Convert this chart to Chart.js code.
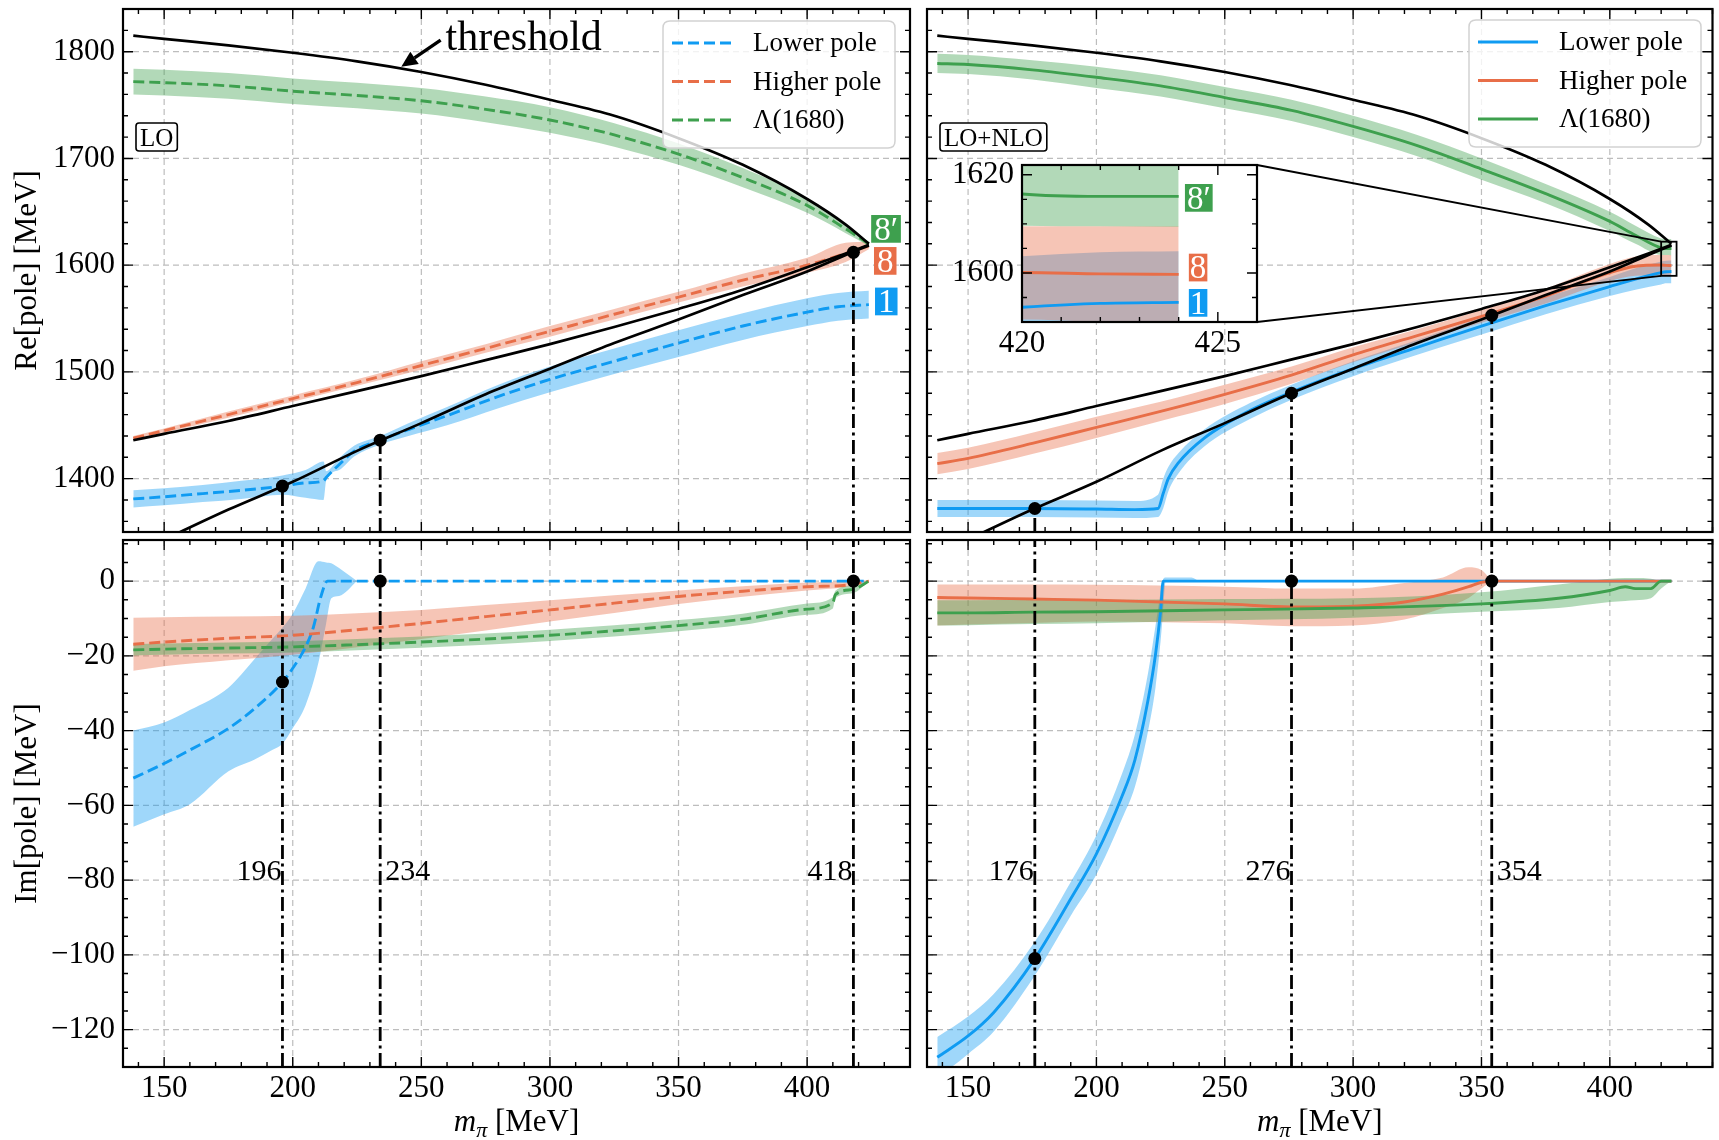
<!DOCTYPE html>
<html>
<head>
<meta charset="utf-8">
<title>Pole trajectories vs pion mass</title>
<script src="https://cdn.jsdelivr.net/npm/chart.js@4.4.1/dist/chart.umd.min.js"></script>
<style>
  body { margin: 0; background: #fff; }
  #fig { position: relative; width: 1719px; height: 1140px; }
  #fig canvas { position: absolute; left: 0; top: 0; }
</style>
</head>
<body>
<div id="fig">
  <canvas id="tl" width="1719" height="1140"></canvas>
  <canvas id="bl" width="1719" height="1140"></canvas>
  <canvas id="tr" width="1719" height="1140"></canvas>
  <canvas id="br" width="1719" height="1140"></canvas>
  <canvas id="inset" width="1719" height="1140"></canvas>
</div>
<script>
// ====== Axis ticks ======
const xTicks = [150, 200, 250, 300, 350, 400];
const reTicks = [1400, 1500, 1600, 1700, 1800];
const imTicks = [0, -20, -40, -60, -80, -100, -120];
const insetXTicks = [420, 425];
const insetReTicks = [1600, 1620];
const legendNames = ['Lower pole', 'Higher pole', '\u039b(1680)'];

const X_RANGE = [134, 440];
const RE_RANGE = [1350, 1840];
const IM_RANGE = [-130, 11];
const INSET_X = [420, 426];
const INSET_Y = [1590, 1622];

// ====== Thresholds (same in both columns) ======
const thrX     = [138, 150, 175, 200, 225, 250, 275, 300, 325, 350, 375, 400, 415, 424];
const thrKXi   = [1815, 1812, 1806, 1799, 1791, 1781, 1769, 1755, 1740, 1719, 1694, 1662, 1638, 1620];
const thrKN    = [1436, 1442, 1454, 1468, 1482, 1496, 1511, 1526, 1542, 1559, 1577, 1598, 1611, 1619];
const thrPiSig = [1330, 1343, 1371, 1397, 1426, 1452, 1479, 1503, 1527, 1549, 1572, 1594, 1609.5, 1618.5];

// ====== LO, real part ======
const loLowReX  = [138, 150, 165, 180, 196, 205, 212, 213, 218, 224, 234, 245, 260, 280, 300, 325, 350, 375, 400, 412, 424];
const loLowRe   = [1381, 1383, 1386, 1389, 1393, 1396, 1398, 1401, 1413, 1426, 1436, 1446, 1459, 1477, 1493, 1510, 1527, 1543, 1556, 1561, 1563];
const loLowReUp = [1389, 1391, 1394, 1398, 1403, 1408, 1416, 1407, 1419, 1431, 1440, 1452, 1467, 1488, 1505, 1522, 1539, 1555, 1569, 1574, 1576];
const loLowReLo = [1373, 1375, 1378, 1381, 1385, 1382, 1380, 1398, 1408, 1421, 1432, 1440, 1450, 1466, 1481, 1498, 1514, 1530, 1543, 1548, 1550];

const loReX      = [138, 150, 175, 200, 225, 250, 275, 300, 325, 350, 375, 400, 415, 424];
const loHighRe   = [1438, 1445, 1460, 1475, 1490, 1506, 1522, 1538, 1554, 1570, 1586, 1600, 1611, 1618];
const loHighReUp = [1440, 1447, 1463, 1478, 1493, 1510, 1526, 1543, 1559, 1575, 1592, 1607, 1621, 1622];
const loHighReLo = [1436, 1443, 1457, 1472, 1487, 1502, 1518, 1533, 1549, 1565, 1580, 1593, 1603, 1615];
const loLamRe    = [1772, 1771, 1768, 1763, 1759, 1754, 1746, 1736, 1722, 1704, 1682, 1656, 1634, 1620];
const loLamReUp  = [1784, 1783, 1780, 1775, 1771, 1766, 1758, 1748, 1733, 1714, 1691, 1663, 1638, 1622];
const loLamReLo  = [1760, 1759, 1756, 1751, 1747, 1742, 1734, 1724, 1711, 1694, 1673, 1649, 1630, 1618];

// ====== LO, imaginary part ======
const loLowImX     = [138, 150, 160, 175, 185, 196, 200, 205, 208, 211, 213.5, 230, 260, 300, 350, 400, 424];
const loLowIm      = [-52.7, -48.8, -45.2, -39.4, -34.2, -27, -23.3, -17.6, -12.4, -4, 0, 0, 0, 0, 0, 0, 0];
const loLowImBandX = [138, 150, 160, 175, 185, 192, 196, 200, 205, 210, 213, 215, 218, 225];
const loLowImUp    = [-40, -37.8, -34.5, -28.5, -21, -15.5, -12.4, -8.7, -2, 5.3, 5, 4.8, 3.5, 0];
const loLowImLo    = [-65.7, -62.4, -59.7, -50.9, -47.8, -45.2, -43.5, -39.4, -33.2, -21.8, -11.3, -4.6, -4, 0];

const loHighIm   = [-16.9, -16.3, -15.3, -14.5, -13, -11.3, -9.5, -7.7, -5.9, -4.1, -2.7, -1.5, -1.1, 0];
const loHighImUp = [-9.8, -9.7, -9.5, -9.3, -8.6, -7.7, -6.4, -5.1, -3.8, -2.5, -1.4, -0.4, -0.1, 0];
const loHighImLo = [-24, -22.8, -21.2, -19.7, -17.7, -15.5, -13.2, -10.8, -8.5, -6.1, -4.2, -2.5, -1.6, 0];

const loLamImX  = [138, 150, 175, 200, 225, 250, 275, 300, 325, 350, 375, 400, 410, 411, 418, 424];
const loLamIm   = [-18.4, -18.2, -17.9, -17.6, -17, -16.3, -15.5, -14.5, -13.3, -11.9, -10.2, -7.5, -5.8, -3.6, -2.2, 0];
const loLamImUp = [-16.9, -16.7, -16.4, -16.1, -15.5, -14.8, -14, -13, -11.8, -10.4, -8.7, -6, -4.3, -2.6, -1.2, 0];
const loLamImLo = [-19.9, -19.7, -19.4, -19.1, -18.5, -17.8, -17, -16, -14.8, -13.4, -11.7, -9, -7.3, -4.6, -3.2, 0];

// ====== LO+NLO, real part ======
const nloLowReX  = [138, 150, 175, 200, 215, 224, 226, 228, 232, 242, 260, 276, 300, 325, 350, 375, 400, 410, 420, 422, 424];
const nloLowRe   = [1372, 1372, 1372, 1371.5, 1371, 1372, 1386, 1400, 1415, 1438, 1464, 1481, 1503, 1523, 1543, 1562, 1580, 1587, 1593, 1593.8, 1594];
const nloLowReUp = [1380, 1380, 1380, 1379.5, 1379, 1385, 1400, 1411, 1424, 1446, 1471, 1488, 1510, 1530, 1551, 1570, 1589, 1597, 1603.4, 1604.2, 1604.4];
const nloLowReLo = [1364, 1364, 1364, 1363.5, 1363, 1364, 1372, 1388, 1405, 1430, 1456, 1474, 1496, 1516, 1535, 1554, 1571, 1577, 1582, 1583, 1583];

const nloReX      = [138, 150, 175, 200, 225, 250, 276, 300, 325, 350, 375, 400, 410, 420, 422, 424];
const nloHighRe   = [1414, 1419, 1433, 1448, 1463, 1479, 1497, 1516, 1534, 1552, 1571, 1593, 1599, 1600.1, 1599.8, 1599.7];
const nloHighReUp = [1424, 1429, 1443, 1458, 1472, 1488, 1505, 1523, 1540, 1558, 1578, 1601, 1608, 1609.5, 1609.5, 1609.5];
const nloHighReLo = [1404, 1409, 1423, 1438, 1454, 1470, 1489, 1509, 1528, 1546, 1564, 1585, 1590, 1590.5, 1590, 1589.5];
const nloLamRe    = [1789, 1788, 1783, 1776, 1768, 1757, 1745, 1730, 1712, 1690, 1667, 1641, 1628, 1616.1, 1615.6, 1615.6];
const nloLamReUp  = [1798, 1797, 1792, 1786, 1778, 1767, 1755, 1740, 1722, 1700, 1676, 1650, 1637, 1625, 1624.5, 1624.5];
const nloLamReLo  = [1780, 1779, 1774, 1766, 1758, 1747, 1735, 1720, 1702, 1680, 1658, 1632, 1620, 1609.6, 1609.5, 1609.4];

// ====== LO+NLO, imaginary part ======
const nloLowImX     = [138, 150, 160, 176, 190, 200, 210, 215, 220, 223, 225, 226, 230, 276, 354, 424];
const nloLowIm      = [-127.4, -121.7, -115.4, -101, -85, -73, -57.5, -47.8, -32.2, -19.7, -8, 0, 0, 0, 0, 0];
const nloLowImBandX = [138, 150, 160, 176, 190, 200, 210, 215, 220, 223, 225, 226, 227, 230, 237, 240];
const nloLowImUp    = [-122, -116.5, -110.5, -96.5, -80.5, -68, -51.5, -41, -25, -12, -3, 0.5, 1, 1, 1, 0];
const nloLowImLo    = [-133, -126.5, -120.5, -105.5, -89.5, -78.5, -63.5, -55, -40.5, -28.5, -16, -8, 0, 0, 0, 0];

const nloHighImX  = [138, 150, 175, 200, 225, 250, 276, 300, 320, 335, 345, 350, 355, 380, 400, 424];
const nloHighIm   = [-4.4, -4.5, -4.8, -5.1, -5.6, -6.1, -6.9, -6.7, -5.6, -3.5, -1.5, -0.3, 0, 0, 0, 0];
const nloHighImUp = [-0.9, -0.9, -0.9, -1, -1.2, -1.5, -2, -2, -0.5, 1, 3.7, 3, 0, 0, 0, 0];
const nloHighImLo = [-11.9, -11.6, -11.2, -10.8, -11, -11.3, -12.1, -11.9, -10.3, -7.2, -4.5, -2, 0, 0, 0, 0];

const nloLamImX  = [138, 150, 175, 200, 250, 300, 350, 380, 400, 406, 410, 416, 420, 424];
const nloLamIm   = [-8.5, -8.5, -8.3, -8.2, -7.7, -7.2, -6.1, -4.6, -2.5, -1.5, -2, -2, 0, 0];
const nloLamImUp = [-5.1, -5.1, -5, -5, -4.8, -4.6, -3, -0.9, 0.6, 0.8, 0.8, 0.6, 0, 0];
const nloLamImLo = [-11.9, -11.8, -11.5, -11.3, -10.5, -9.8, -8.2, -7.2, -5.6, -5.3, -5.1, -4.6, -2, 0];

// ====== Marked pion masses ======
const loMarkX  = [196, 234, 418];
const loMarkRe = [1393, 1436, 1612];
const loMarkIm = [-27, 0, 0];
const nloMarkX  = [176, 276, 354];
const nloMarkRe = [1372, 1480, 1553];
const nloMarkIm = [-101, 0, 0];
const MARK_LABEL_Y = -80;

// ====== Styles ======
const FF = "'Liberation Serif', 'Times New Roman', serif";
Chart.defaults.font.family = FF;
Chart.defaults.color = '#000';

const BLUE = '15,155,242', ORANGE = '232,110,72', GREEN = '62,160,78';
const solid = c => 'rgb(' + c + ')';
const soft = c => 'rgba(' + c + ',0.4)';
const DASH = [11, 5];
const DASHDOT = [14, 4.5, 3, 4.5];
const INSET_BOX = {left: 1022, top: 165, right: 1257, bottom: 322};

function pts(xs, ys) {
  return xs.map((x, i) => ({x: x, y: ys[i]}));
}

function curve(xs, ys, color, dash, order, width) {
  return {
    data: pts(xs, ys), borderColor: color, borderWidth: width || 2.9, borderDash: dash || [],
    pointRadius: 0, fill: false, cubicInterpolationMode: 'monotone', order: order
  };
}

function band(xs, up, lo, c, order) {
  const common = {borderWidth: 0, borderColor: 'rgba(0,0,0,0)', pointRadius: 0,
                  cubicInterpolationMode: 'monotone', order: order};
  return [
    Object.assign({data: pts(xs, up), fill: '+1', backgroundColor: soft(c)}, common),
    Object.assign({data: pts(xs, lo), fill: false}, common)
  ];
}

function thresholds() {
  return [
    curve(thrX, thrKXi, '#000', null, 5, 2.7),
    curve(thrX, thrKN, '#000', null, 5, 2.7),
    curve(thrX, thrPiSig, '#000', null, 5, 2.7)
  ];
}

// dash-dot verticals from y0 up to the dot (or to yTop) plus the black dots
function markers(xs, ys, y0, yTop) {
  const sets = xs.map((x, i) => ({
    data: [{x: x, y: y0}, {x: x, y: yTop === null ? ys[i] : yTop}],
    borderColor: '#000', borderWidth: 2.8, borderDash: DASHDOT, pointRadius: 0, fill: false, order: 3
  }));
  sets.push({data: pts(xs, ys), showLine: false, pointRadius: 6.5, pointBackgroundColor: '#000',
             pointBorderWidth: 0, order: 1});
  return sets;
}

// ====== Plugins ======
const framePlugin = {
  id: 'frame',
  beforeDatasetsDraw(chart, args, o) {
    if (!o.grid) return;
    const {ctx, chartArea: a, scales: {x, y}} = chart;
    ctx.save();
    ctx.strokeStyle = '#bdbdbd';
    ctx.lineWidth = 1.2;
    ctx.setLineDash([6, 4]);
    ctx.beginPath();
    x.ticks.forEach(t => { const p = x.getPixelForValue(t.value); ctx.moveTo(p, a.top); ctx.lineTo(p, a.bottom); });
    y.ticks.forEach(t => { const p = y.getPixelForValue(t.value); ctx.moveTo(a.left, p); ctx.lineTo(a.right, p); });
    ctx.stroke();
    ctx.restore();
  },
  afterDatasetsDraw(chart, args, o) {
    const {ctx, chartArea: a, scales: {x, y}} = chart;
    ctx.save();
    ctx.strokeStyle = '#000';
    ctx.lineWidth = 1.4;
    ctx.beginPath();
    const xTick = (v, len) => {
      const p = x.getPixelForValue(v);
      ctx.moveTo(p, a.bottom); ctx.lineTo(p, a.bottom - len);
      ctx.moveTo(p, a.top); ctx.lineTo(p, a.top + len);
    };
    const yTick = (v, len) => {
      const p = y.getPixelForValue(v);
      ctx.moveTo(a.left, p); ctx.lineTo(a.left + len, p);
      ctx.moveTo(a.right, p); ctx.lineTo(a.right - len, p);
    };
    for (let k = Math.ceil(x.min / o.xMinor); k * o.xMinor <= x.max; k++) xTick(k * o.xMinor, 5);
    for (let k = Math.ceil(y.min / o.yMinor); k * o.yMinor <= y.max; k++) yTick(k * o.yMinor, 5);
    x.ticks.forEach(t => xTick(t.value, 10));
    y.ticks.forEach(t => yTick(t.value, 10));
    ctx.stroke();
    ctx.lineWidth = 2.2;
    ctx.strokeRect(a.left, a.top, a.right - a.left, a.bottom - a.top);
    ctx.restore();
  }
};

function roundRectPath(ctx, x, y, w, h, r) {
  ctx.beginPath();
  ctx.moveTo(x + r, y);
  ctx.lineTo(x + w - r, y); ctx.quadraticCurveTo(x + w, y, x + w, y + r);
  ctx.lineTo(x + w, y + h - r); ctx.quadraticCurveTo(x + w, y + h, x + w - r, y + h);
  ctx.lineTo(x + r, y + h); ctx.quadraticCurveTo(x, y + h, x, y + h - r);
  ctx.lineTo(x, y + r); ctx.quadraticCurveTo(x, y, x + r, y);
  ctx.closePath();
}

function drawLegend(ctx, left, top, dash) {
  const colors = [BLUE, ORANGE, GREEN];
  ctx.save();
  roundRectPath(ctx, left, top, 232, 127, 7);
  ctx.fillStyle = 'rgba(255,255,255,0.8)';
  ctx.fill();
  ctx.strokeStyle = '#d2d2d2';
  ctx.lineWidth = 1.5;
  ctx.stroke();
  ctx.font = '27px ' + FF;
  ctx.textBaseline = 'middle';
  ctx.textAlign = 'left';
  legendNames.forEach((name, i) => {
    const yy = top + 22 + i * 38.5;
    ctx.beginPath();
    ctx.setLineDash(dash);
    ctx.strokeStyle = solid(colors[i]);
    ctx.lineWidth = 2.9;
    ctx.moveTo(left + 9, yy);
    ctx.lineTo(left + 69, yy);
    ctx.stroke();
    ctx.setLineDash([]);
    ctx.fillStyle = '#000';
    ctx.fillText(name, left + 90, yy + 1);
  });
  ctx.restore();
}

function boxLabel(ctx, text, left, top) {
  ctx.save();
  ctx.font = '25px ' + FF;
  const w = ctx.measureText(text).width + 8, h = 28;
  roundRectPath(ctx, left, top, w, h, 3);
  ctx.fillStyle = '#fff';
  ctx.fill();
  ctx.strokeStyle = '#000';
  ctx.lineWidth = 1.6;
  ctx.stroke();
  ctx.fillStyle = '#000';
  ctx.textAlign = 'center';
  ctx.textBaseline = 'alphabetic';
  ctx.fillText(text, left + w / 2, top + h / 2 + 8.5);
  ctx.restore();
}

function tag(ctx, text, left, cy, c, size, pad) {
  ctx.save();
  ctx.font = size + 'px ' + FF;
  const w = ctx.measureText(text).width + 2 * pad, h = size * 0.84;
  ctx.fillStyle = solid(c);
  ctx.fillRect(left, cy - h / 2, w, h);
  ctx.fillStyle = '#fff';
  ctx.textAlign = 'left';
  ctx.textBaseline = 'alphabetic';
  ctx.fillText(text, left + pad, cy + size * 0.33);
  ctx.restore();
}

function drawArrow(ctx, x0, y0, x1, y1) {
  const ang = Math.atan2(y1 - y0, x1 - x0), L = 16, half = 7.5;
  const bx = x1 - L * Math.cos(ang), by = y1 - L * Math.sin(ang);
  ctx.save();
  ctx.strokeStyle = '#000';
  ctx.fillStyle = '#000';
  ctx.lineWidth = 3.4;
  ctx.beginPath(); ctx.moveTo(x0, y0); ctx.lineTo(bx, by); ctx.stroke();
  ctx.beginPath();
  ctx.moveTo(x1, y1);
  ctx.lineTo(bx + half * Math.sin(ang), by - half * Math.cos(ang));
  ctx.lineTo(bx - half * Math.sin(ang), by + half * Math.cos(ang));
  ctx.closePath();
  ctx.fill();
  ctx.restore();
}

function xTitle(ctx, cx, base) {
  const big = 'italic 31px ' + FF, sub = 'italic 22px ' + FF, reg = '31px ' + FF;
  ctx.save();
  ctx.font = big; const w1 = ctx.measureText('m').width;
  ctx.font = sub; const w2 = ctx.measureText('\u03c0').width;
  ctx.font = reg; const w3 = ctx.measureText(' [MeV]').width;
  let xx = cx - (w1 + w2 + w3) / 2;
  ctx.fillStyle = '#000';
  ctx.textAlign = 'left';
  ctx.textBaseline = 'alphabetic';
  ctx.font = big; ctx.fillText('m', xx, base); xx += w1;
  ctx.font = sub; ctx.fillText('\u03c0', xx, base + 6); xx += w2;
  ctx.font = reg; ctx.fillText(' [MeV]', xx, base);
  ctx.restore();
}

function markLabels(chart, xs, aligns) {
  const {ctx, scales: {x, y}} = chart;
  ctx.save();
  ctx.font = '30px ' + FF;
  ctx.fillStyle = '#000';
  ctx.textBaseline = 'alphabetic';
  xs.forEach((m, i) => {
    ctx.textAlign = aligns[i];
    const px = x.getPixelForValue(m) + (aligns[i] === 'left' ? 5 : -1);
    ctx.fillText(String(m), px, y.getPixelForValue(MARK_LABEL_Y));
  });
  ctx.restore();
}

// ====== Panel factory ======
function panel(id, o) {
  return new Chart(document.getElementById(id), {
    type: 'line',
    data: {datasets: o.datasets},
    options: {
      responsive: false,
      animation: false,
      events: [],
      layout: {padding: o.pad},
      plugins: {legend: {display: false}, tooltip: {enabled: false}, frame: o.frame},
      scales: {
        x: {
          type: 'linear', min: o.x[0], max: o.x[1],
          afterBuildTicks: s => { s.ticks = o.xTicks.map(v => ({value: v})); },
          afterFit: s => { s.height = o.xHeight; s.paddingLeft = 0; s.paddingRight = 0; },
          grid: {display: false, drawTicks: false},
          border: {display: false},
          ticks: {display: o.xLabels, autoSkip: false, maxRotation: 0, padding: 3, font: {size: 31}}
        },
        y: {
          type: 'linear', min: o.y[0], max: o.y[1],
          afterBuildTicks: s => { s.ticks = o.yTicks.map(v => ({value: v})); },
          afterFit: s => { s.width = o.yWidth; s.paddingTop = 0; s.paddingBottom = 0; },
          grid: {display: false, drawTicks: false},
          border: {display: false},
          title: {display: !!o.yTitle, text: o.yTitle || '', font: {size: 31}, padding: {top: 9, bottom: 0}},
          ticks: {display: o.yLabels, autoSkip: false, padding: 8, font: {size: 31},
                  callback: v => (v < 0 ? '\u2212' + (-v) : String(v))}
        }
      }
    },
    plugins: (o.before || []).concat([framePlugin], o.extra || [])
  });
}

// ====== Top left: LO, Re ======
panel('tl', {
  pad: {left: 0, top: 9, right: 809, bottom: 608},
  x: X_RANGE, y: RE_RANGE, xTicks: xTicks, yTicks: reTicks,
  xLabels: false, yLabels: true, xHeight: 0, yWidth: 123, yTitle: 'Re[pole] [MeV]',
  frame: {grid: true, xMinor: 10, yMinor: 20},
  datasets: [].concat(
    band(loLowReX, loLowReUp, loLowReLo, BLUE, 90),
    band(loReX, loHighReUp, loHighReLo, ORANGE, 80),
    band(loReX, loLamReUp, loLamReLo, GREEN, 70),
    [curve(loLowReX, loLowRe, solid(BLUE), DASH, 30),
     curve(loReX, loHighRe, solid(ORANGE), DASH, 20),
     curve(loReX, loLamRe, solid(GREEN), DASH, 10)],
    thresholds(),
    markers(loMarkX, loMarkRe, RE_RANGE[0], null)
  ),
  extra: [{
    id: 'tlAnnot',
    afterDraw(chart) {
      const {ctx, scales: {x, y}} = chart;
      drawLegend(ctx, 663, 21, DASH);
      boxLabel(ctx, 'LO', 136, 123);
      ctx.save();
      ctx.font = '42px ' + FF;
      ctx.fillStyle = '#000';
      ctx.textBaseline = 'alphabetic';
      ctx.fillText('threshold', x.getPixelForValue(259.4), y.getPixelForValue(1801.4));
      ctx.restore();
      drawArrow(ctx, x.getPixelForValue(257.5), y.getPixelForValue(1810.8),
                x.getPixelForValue(242.2), y.getPixelForValue(1785.8));
      tag(ctx, '8\u2032', x.getPixelForValue(424.9), y.getPixelForValue(1634), GREEN, 33, 3);
      tag(ctx, '8', x.getPixelForValue(426), y.getPixelForValue(1604), ORANGE, 33, 3);
      tag(ctx, '1', x.getPixelForValue(426.4), y.getPixelForValue(1566), BLUE, 33, 3);
    }
  }]
});

// ====== Bottom left: LO, Im ======
panel('bl', {
  pad: {left: 0, top: 540, right: 809, bottom: 0},
  x: X_RANGE, y: IM_RANGE, xTicks: xTicks, yTicks: imTicks,
  xLabels: true, yLabels: true, xHeight: 73, yWidth: 123, yTitle: 'Im[pole] [MeV]',
  frame: {grid: true, xMinor: 10, yMinor: 5},
  datasets: [].concat(
    band(loLowImBandX, loLowImUp, loLowImLo, BLUE, 90),
    band(loReX, loHighImUp, loHighImLo, ORANGE, 80),
    band(loLamImX, loLamImUp, loLamImLo, GREEN, 70),
    [curve(loLowImX, loLowIm, solid(BLUE), DASH, 30),
     curve(loReX, loHighIm, solid(ORANGE), DASH, 20),
     curve(loLamImX, loLamIm, solid(GREEN), DASH, 10)],
    markers(loMarkX, loMarkIm, IM_RANGE[0], IM_RANGE[1])
  ),
  extra: [{
    id: 'blAnnot',
    afterDraw(chart) {
      markLabels(chart, loMarkX, ['right', 'left', 'right']);
      const a = chart.chartArea;
      xTitle(chart.ctx, (a.left + a.right) / 2, 1131);
    }
  }]
});

// ====== Top right: LO+NLO, Re ======
panel('tr', {
  pad: {left: 927, top: 9, right: 5, bottom: 608},
  x: X_RANGE, y: RE_RANGE, xTicks: xTicks, yTicks: reTicks,
  xLabels: false, yLabels: false, xHeight: 0, yWidth: 0,
  frame: {grid: true, xMinor: 10, yMinor: 20},
  datasets: [].concat(
    band(nloLowReX, nloLowReUp, nloLowReLo, BLUE, 90),
    band(nloReX, nloHighReUp, nloHighReLo, ORANGE, 80),
    band(nloReX, nloLamReUp, nloLamReLo, GREEN, 70),
    [curve(nloLowReX, nloLowRe, solid(BLUE), [], 30),
     curve(nloReX, nloHighRe, solid(ORANGE), [], 20),
     curve(nloReX, nloLamRe, solid(GREEN), [], 10)],
    thresholds(),
    markers(nloMarkX, nloMarkRe, RE_RANGE[0], null)
  ),
  extra: [{
    id: 'trAnnot',
    afterDraw(chart) {
      const {ctx, scales: {x, y}} = chart;
      drawLegend(ctx, 1469, 20, []);
      boxLabel(ctx, 'LO+NLO', 940, 123);
      const x0 = x.getPixelForValue(INSET_X[0]), x1 = x.getPixelForValue(INSET_X[1]);
      const y0 = y.getPixelForValue(INSET_Y[1]), y1 = y.getPixelForValue(INSET_Y[0]);
      ctx.save();
      ctx.strokeStyle = '#000';
      ctx.lineWidth = 1.8;
      ctx.strokeRect(x0, y0, x1 - x0, y1 - y0);
      ctx.beginPath();
      ctx.moveTo(INSET_BOX.right, INSET_BOX.top); ctx.lineTo(x0, y0);
      ctx.moveTo(INSET_BOX.right, INSET_BOX.bottom); ctx.lineTo(x0, y1);
      ctx.stroke();
      ctx.restore();
    }
  }]
});

// ====== Bottom right: LO+NLO, Im ======
panel('br', {
  pad: {left: 927, top: 540, right: 5, bottom: 0},
  x: X_RANGE, y: IM_RANGE, xTicks: xTicks, yTicks: imTicks,
  xLabels: true, yLabels: false, xHeight: 73, yWidth: 0,
  frame: {grid: true, xMinor: 10, yMinor: 5},
  datasets: [].concat(
    band(nloLowImBandX, nloLowImUp, nloLowImLo, BLUE, 90),
    band(nloHighImX, nloHighImUp, nloHighImLo, ORANGE, 80),
    band(nloLamImX, nloLamImUp, nloLamImLo, GREEN, 70),
    [curve(nloLowImX, nloLowIm, solid(BLUE), [], 30),
     curve(nloHighImX, nloHighIm, solid(ORANGE), [], 20),
     curve(nloLamImX, nloLamIm, solid(GREEN), [], 10)],
    markers(nloMarkX, nloMarkIm, IM_RANGE[0], IM_RANGE[1])
  ),
  extra: [{
    id: 'brAnnot',
    afterDraw(chart) {
      markLabels(chart, nloMarkX, ['right', 'right', 'left']);
      const a = chart.chartArea;
      xTitle(chart.ctx, (a.left + a.right) / 2, 1131);
    }
  }]
});

// ====== Inset: zoom on the SU(3) point ======
panel('inset', {
  pad: {left: 0, top: INSET_BOX.top, right: 1719 - INSET_BOX.right, bottom: 1140 - INSET_BOX.bottom - 42},
  x: INSET_X, y: INSET_Y, xTicks: insetXTicks, yTicks: insetReTicks,
  xLabels: true, yLabels: true, xHeight: 42, yWidth: INSET_BOX.left,
  frame: {grid: false, xMinor: 1, yMinor: 5},
  datasets: [].concat(
    band(nloLowReX, nloLowReUp, nloLowReLo, BLUE, 90),
    band(nloReX, nloHighReUp, nloHighReLo, ORANGE, 80),
    band(nloReX, nloLamReUp, nloLamReLo, GREEN, 70),
    [curve(nloLowReX, nloLowRe, solid(BLUE), [], 30),
     curve(nloReX, nloHighRe, solid(ORANGE), [], 20),
     curve(nloReX, nloLamRe, solid(GREEN), [], 10)]
  ),
  before: [{
    id: 'insetBg',
    beforeDraw(chart) {
      const a = chart.chartArea, ctx = chart.ctx;
      ctx.save();
      ctx.fillStyle = '#fff';
      ctx.fillRect(a.left, a.top, a.right - a.left, a.bottom - a.top);
      ctx.restore();
    }
  }],
  extra: [{
    id: 'insetAnnot',
    afterDraw(chart) {
      const {ctx, scales: {x, y}} = chart;
      tag(ctx, '8\u2032', x.getPixelForValue(424.16), y.getPixelForValue(1615.3), GREEN, 33, 2);
      tag(ctx, '8', x.getPixelForValue(424.26), y.getPixelForValue(1601.1), ORANGE, 33, 1);
      tag(ctx, '1', x.getPixelForValue(424.26), y.getPixelForValue(1593.9), BLUE, 33, 1);
    }
  }]
});
</script>
</body>
</html>
